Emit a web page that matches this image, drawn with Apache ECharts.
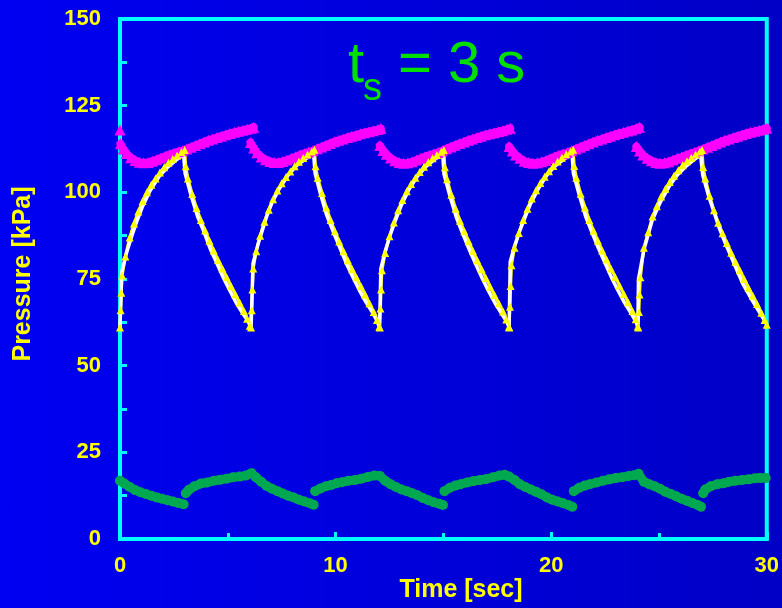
<!DOCTYPE html>
<html>
<head>
<meta charset="UTF-8">
<title>Pressure vs time</title>
<script src="https://cdn.jsdelivr.net/npm/echarts@6.0.0/dist/echarts.min.js"></script>
<style>
  html, body { margin: 0; padding: 0; }
  #main { width: 782px; height: 608px; background: linear-gradient(to right, #0000f2, #0000c6); }
</style>
</head>
<body>
<div id="main"></div>
<script type="text/javascript">
// [time (s), pressure (kPa)]

// white line (model)
var whiteLine = [
  [0,61],[0.08,77],[0.3,82.5],[0.55,87.5],[0.8,92],[1.05,96],[1.4,100.5],[1.8,104.5],[2.2,107.2],[2.6,109.3],[2.95,110.8],
  [3.02,105.5],[3.3,99],[3.6,93],[3.9,88.5],[4.2,83.5],[4.5,79.5],[4.8,75.3],[5.1,71.6],[5.4,68],[5.7,65],[5.95,62.8],[6.08,61],
  [6.17,79.5],[6.4,85],[6.6,89],[6.8,93],[7.05,97],[7.4,101.2],[7.8,105],[8.2,107.8],[8.6,109.6],[8.98,111.2],
  [9.05,105.5],[9.3,99.5],[9.6,93.2],[9.9,88.5],[10.2,84],[10.5,79.5],[10.8,75.6],[11.1,71.8],[11.4,68.4],[11.7,65.5],[11.92,63],[12.04,61],
  [12.1,78],[12.3,83],[12.55,88],[12.8,92.3],[13.05,96.3],[13.4,100.8],[13.8,104.7],[14.2,107.5],[14.6,109.5],[14.97,111],
  [15.03,105.2],[15.3,99],[15.6,92.8],[15.9,88],[16.2,83.5],[16.5,79.3],[16.8,75.2],[17.1,71.5],[17.4,68],[17.7,65],[17.95,62.6],[18.05,61],
  [18.1,80],[18.3,84.5],[18.55,89],[18.8,93],[19.05,96.8],[19.4,101],[19.8,105],[20.2,107.7],[20.6,109.6],[20.97,111],
  [21.03,105.5],[21.3,99.3],[21.6,93],[21.9,88.3],[22.2,83.8],[22.5,79.6],[22.8,75.4],[23.1,71.7],[23.4,68.2],[23.7,65.2],[23.95,62.5],[24.02,61],
  [24.05,75],[24.3,83.4],[24.69,92],[25.05,97],[25.46,101.6],[25.85,105],[26.23,107.4],[26.6,109.3],[26.93,110.8],
  [27.03,105],[27.3,99],[27.78,90],[28.1,85],[28.55,78.5],[28.9,73.5],[29.32,68.9],[29.65,65.5],[29.95,62.5]
];

// yellow triangles (measured)
var yellowPts = [
  [0,61],[0.03,66],[0.06,71],[0.1,76],[0.25,81.5],[0.45,87],[0.65,91],[0.85,94.5],[1.05,97.5],[1.25,100],[1.45,102.2],[1.65,104],[1.85,105.7],[2.05,107.2],[2.25,108.5],[2.45,109.6],[2.65,110.6],[2.85,111.6],[3,112.2],
  [3.05,107.5],[3.15,104],[3.35,99.5],[3.55,95.5],[3.75,92],[3.95,89],[4.15,86],[4.35,83.2],[4.55,80.5],[4.75,78],[4.95,75.5],[5.15,73],[5.35,70.6],[5.55,68.2],[5.75,65.8],[5.9,63.5],[6.02,61.5],
  [6.08,61],[6.11,66],[6.14,72],[6.18,78],[6.32,83],[6.5,87.5],[6.7,91.5],[6.9,95],[7.1,98],[7.3,100.5],[7.5,102.6],[7.7,104.4],[7.9,106],[8.1,107.5],[8.3,108.8],[8.5,109.9],[8.7,110.9],[8.9,111.8],[9.02,112.3],
  [9.07,107.5],[9.17,104.2],[9.37,99.8],[9.57,95.6],[9.77,92],[9.97,88.8],[10.17,85.8],[10.37,83],[10.57,80.4],[10.77,77.8],[10.97,75.4],[11.17,73],[11.37,70.5],[11.57,68],[11.77,65.5],[11.92,63.2],[12.03,61.2],
  [12.05,61],[12.08,66.5],[12.11,72],[12.15,77.5],[12.3,82.5],[12.5,87.3],[12.7,91.3],[12.9,94.8],[13.1,97.8],[13.3,100.3],[13.5,102.4],[13.7,104.2],[13.9,105.9],[14.1,107.4],[14.3,108.7],[14.5,109.8],[14.7,110.8],[14.9,111.7],[15.02,112.2],
  [15.07,107.2],[15.17,103.8],[15.37,99.3],[15.57,95.3],[15.77,91.8],[15.97,88.8],[16.17,85.9],[16.37,83.1],[16.57,80.4],[16.77,77.9],[16.97,75.3],[17.17,72.8],[17.37,70.4],[17.57,68],[17.77,65.6],[17.92,63.3],[18.04,61.2],
  [18.06,61],[18.09,67],[18.12,73],[18.16,79],[18.3,84],[18.5,88.3],[18.7,92],[18.9,95.3],[19.1,98.2],[19.3,100.6],[19.5,102.7],[19.7,104.5],[19.9,106.1],[20.1,107.6],[20.3,108.9],[20.5,110],[20.7,111],[20.9,111.8],[21.02,112.3],
  [21.07,107.6],[21.17,104.2],[21.37,99.6],[21.57,95.6],[21.77,92],[21.97,88.9],[22.17,86],[22.37,83.2],[22.57,80.6],[22.77,78],[22.97,75.6],[23.17,73.1],[23.37,70.7],[23.57,68.3],[23.77,65.8],[23.92,63.4],[24.02,61.3],
  [24.04,61],[24.07,65.5],[24.1,70.5],[24.14,75.5],[24.3,84],[24.5,88.5],[24.7,93],[24.9,96],[25.1,98.8],[25.3,101],[25.5,103],[25.7,104.8],[25.9,106.4],[26.1,107.8],[26.3,109],[26.5,110],[26.7,110.9],[26.9,111.8],[27,112.2],
  [27.05,107.3],[27.15,104],[27.35,99],[27.55,94.8],[27.75,91.2],[27.95,88.2],[28.15,85.4],[28.35,82.6],[28.55,80],[28.75,77.5],[28.95,75],[29.15,72.5],[29.35,70.2],[29.55,67.8],[29.75,65.3],[29.9,63.2],[30,61.8]
];

// magenta triangles, one list per cycle
var pink0 = [[0,118]];
var pink1 = [[0.02,114],[0.15,112.5],[0.3,111.2],[0.5,110],[0.7,109.2],[0.9,108.7],[1.1,108.5],[1.3,108.6],[1.5,109],[1.7,109.4],[1.9,109.9],[2.1,110.4],[2.3,110.9],[2.5,111.3],[2.7,111.7],[2.9,112],[3.1,112.5],[3.3,113],[3.5,113.5],[3.7,114],[3.9,114.5],[4.1,115],[4.3,115.4],[4.5,115.8],[4.7,116.2],[4.9,116.6],[5.1,117],[5.3,117.3],[5.5,117.6],[5.7,117.9],[5.9,118.2],[6.1,118.5],[6.2,118.8]];
var pink2 = [[6.05,114.4],[6.2,112.8],[6.35,111.4],[6.55,110.2],[6.75,109.4],[6.95,108.9],[7.15,108.6],[7.35,108.6],[7.55,108.9],[7.75,109.3],[7.95,109.8],[8.15,110.3],[8.35,110.8],[8.55,111.2],[8.75,111.6],[8.95,112],[9.15,112.6],[9.35,113.1],[9.55,113.6],[9.75,114.1],[9.95,114.6],[10.15,115],[10.35,115.4],[10.55,115.8],[10.75,116.2],[10.95,116.5],[11.15,116.9],[11.35,117.2],[11.55,117.5],[11.75,117.8],[11.95,118.1],[12.1,118.4]];
var pink3 = [[12.05,113.5],[12.2,112.1],[12.35,111],[12.55,109.9],[12.75,109.1],[12.95,108.6],[13.15,108.4],[13.35,108.5],[13.55,108.8],[13.75,109.3],[13.95,109.8],[14.15,110.3],[14.35,110.7],[14.55,111.1],[14.75,111.5],[14.95,112],[15.15,112.6],[15.35,113.1],[15.55,113.6],[15.75,114.1],[15.95,114.5],[16.15,115],[16.35,115.4],[16.55,115.8],[16.75,116.2],[16.95,116.6],[17.15,116.9],[17.35,117.2],[17.55,117.5],[17.75,117.8],[17.95,118.2],[18.1,118.5]];
var pink4 = [[18.05,113.2],[18.2,111.9],[18.35,110.8],[18.55,109.8],[18.75,109],[18.95,108.6],[19.15,108.4],[19.35,108.5],[19.55,108.8],[19.75,109.2],[19.95,109.7],[20.15,110.2],[20.35,110.7],[20.55,111.1],[20.75,111.5],[20.95,112],[21.15,112.5],[21.35,113],[21.55,113.5],[21.75,114],[21.95,114.5],[22.15,115],[22.35,115.4],[22.55,115.8],[22.75,116.2],[22.95,116.6],[23.15,117],[23.35,117.3],[23.55,117.7],[23.75,118],[23.95,118.4],[24.1,118.8]];
var pink5 = [[23.95,113.2],[24.1,111.9],[24.25,110.8],[24.45,109.8],[24.65,109.1],[24.85,108.6],[25.05,108.4],[25.25,108.5],[25.45,108.8],[25.65,109.3],[25.85,109.8],[26.05,110.2],[26.25,110.7],[26.45,111.1],[26.65,111.5],[26.85,112],[27.05,112.5],[27.25,113],[27.45,113.5],[27.65,114],[27.85,114.5],[28.05,115],[28.25,115.4],[28.45,115.8],[28.65,116.2],[28.85,116.6],[29.05,117],[29.25,117.3],[29.45,117.6],[29.65,117.9],[29.85,118.2],[30,118.5]];

// green circles, one list per segment
var green1 = [[0,16.8],[0.2,16],[0.45,15],[0.7,14.1],[0.95,13.5],[1.2,13],[1.45,12.5],[1.7,12],[1.95,11.6],[2.2,11.2],[2.45,10.8],[2.7,10.4],[2.95,10]];
var green2 = [[3.05,13.2],[3.2,14.2],[3.45,15.2],[3.75,16],[4.05,16.3],[4.35,16.8],[4.65,17.1],[4.95,17.4],[5.25,17.8],[5.55,18],[5.85,18.3],[6.1,19],[6.3,17.8],[6.55,16.5],[6.8,15.3],[7.05,14.5],[7.3,13.8],[7.55,13.1],[7.8,12.5],[8.05,12],[8.3,11.3],[8.55,10.8],[8.8,10.3],[8.98,9.9]];
var green3 = [[9.05,13.8],[9.3,14.6],[9.55,15.2],[9.8,15.6],[10.05,16.1],[10.3,16.4],[10.6,16.8],[10.9,17],[11.2,17.4],[11.5,17.9],[11.8,18.3],[12.05,18.2],[12.3,16.8],[12.55,15.8],[12.8,15],[13.05,14.3],[13.3,13.8],[13.55,13.2],[13.8,12.6],[14.05,11.8],[14.3,11.2],[14.55,10.6],[14.8,10.2],[14.98,9.8]];
var green4 = [[15.05,13.8],[15.3,14.8],[15.55,15.4],[15.8,15.8],[16.1,16.3],[16.4,16.7],[16.7,17],[17,17.3],[17.3,17.8],[17.6,18.3],[17.85,18.5],[18.05,18],[18.3,17],[18.55,15.8],[18.8,15],[19.05,14.3],[19.3,13.6],[19.55,12.9],[19.8,12],[20.05,11.3],[20.3,10.8],[20.55,10.3],[20.8,9.8],[20.98,9.3]];
var green5 = [[21.05,13.8],[21.3,14.8],[21.55,15.4],[21.8,15.8],[22.1,16.3],[22.4,16.8],[22.7,17.2],[23,17.6],[23.3,17.8],[23.6,18.2],[23.85,18.4],[24.05,18.8],[24.3,16.5],[24.55,15.8],[24.8,15.2],[25.05,14.5],[25.3,13.6],[25.55,13],[25.8,12.3],[26.05,11.6],[26.3,11],[26.55,10.4],[26.8,9.8],[26.95,9.3]];
var green6 = [[27.05,13.2],[27.15,14.3],[27.4,15.2],[27.7,15.8],[28,16.1],[28.25,16.5],[28.55,16.8],[28.85,17],[29.15,17.2],[29.45,17.5],[29.7,17.6],[29.95,17.6]];

var pinkSegs = [pink0, pink1, pink2, pink3, pink4, pink5];
var greenSegs = [green1, green2, green3, green4, green5, green6];

var yellowC = '#ffff00';
var cyan = '#00ffff';
var font = 'Arial, "Liberation Sans", sans-serif';

function markLine(data, color, width, symbol, size) {
    return {
        type: 'line',
        data: data,
        symbol: symbol,
        symbolSize: size,
        showSymbol: symbol !== 'none',
        lineStyle: { color: color, width: width, cap: 'round', join: 'round' },
        itemStyle: { color: color },
        silent: true
    };
}

var series = [];
greenSegs.forEach(function (s) { series.push(markLine(s, '#00a84f', 9, 'circle', 10)); });
pinkSegs.forEach(function (s) { series.push(markLine(s, '#ff00ff', 8, 'triangle', 11)); });
series.push(markLine(yellowPts, yellowC, 3, 'triangle', 8));
series.push(markLine(whiteLine, '#ffffff', 3.5, 'none', 0));

var myChart = echarts.init(document.getElementById('main'));
myChart.setOption({
    animation: false,
    backgroundColor: 'transparent',
    grid: {
        left: 120, right: 14, top: 19, bottom: 69,
        show: true, borderColor: cyan, borderWidth: 4
    },
    xAxis: {
        type: 'value', min: 0, max: 30, interval: 10,
        axisLine: { lineStyle: { color: cyan, width: 4 } },
        axisTick: { inside: true, length: 7, lineStyle: { color: cyan, width: 3 } },
        minorTick: { show: true, splitNumber: 2, length: 6, lineStyle: { color: cyan, width: 3 } },
        splitLine: { show: false },
        axisLabel: { color: yellowC, fontWeight: 'bold', fontSize: 22, fontFamily: font, margin: 16 }
    },
    yAxis: {
        type: 'value', min: 0, max: 150, interval: 25,
        axisLine: { show: true, lineStyle: { color: cyan, width: 4 } },
        axisTick: { show: true, inside: true, length: 7, lineStyle: { color: cyan, width: 3 } },
        minorTick: { show: true, splitNumber: 2, length: 7, lineStyle: { color: cyan, width: 3 } },
        splitLine: { show: false },
        axisLabel: { color: yellowC, fontWeight: 'bold', fontSize: 22, fontFamily: font, margin: 19 }
    },
    graphic: [
        { type: 'text', x: 23.5, y: 274, rotation: Math.PI / 2,
          style: { text: 'Pressure [kPa]', fill: yellowC, font: 'bold 25px ' + font, align: 'center', verticalAlign: 'middle' } },
        { type: 'text', x: 461, y: 590,
          style: { text: 'Time [sec]', fill: yellowC, font: 'bold 25px ' + font, align: 'center', verticalAlign: 'middle' } },
        { type: 'text', x: 348, y: 66,
          style: { text: 't', fill: '#00e000', font: '58px ' + font, align: 'left', verticalAlign: 'middle' } },
        { type: 'text', x: 363, y: 90,
          style: { text: 's', fill: '#00e000', font: '38px ' + font, align: 'left', verticalAlign: 'middle' } },
        { type: 'text', x: 398, y: 66,
          style: { text: '= 3 s', fill: '#00e000', font: '58px ' + font, align: 'left', verticalAlign: 'middle' } }
    ],
    series: series
});
</script>
</body>
</html>
